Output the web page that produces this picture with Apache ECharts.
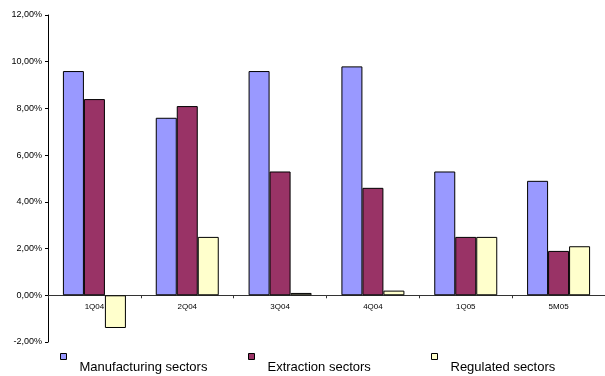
<!DOCTYPE html>
<html>
<head>
<meta charset="utf-8">
<script src="https://cdn.jsdelivr.net/npm/echarts@6/dist/echarts.min.js"></script>
<style>
  html, body { margin: 0; padding: 0; background: #fff; }
  #chart { width: 605px; height: 376px; }
</style>
</head>
<body>
<div id="chart"></div>
<script>
// quarters on the x axis
const categories = ['1Q04', '2Q04', '3Q04', '4Q04', '1Q05', '5M05'];

// growth rates, in %
const manufacturing = [9.6, 7.6, 9.6, 9.8, 5.3, 4.9];
const extraction = [8.4, 8.1, 5.3, 4.6, 2.5, 1.9];
const regulated = [-1.4, 2.5, 0.1, 0.2, 2.5, 2.1];

const seriesNames = ['Manufacturing sectors', 'Extraction sectors', 'Regulated sectors'];
const colors = ['#9999FF', '#993366', '#FFFFCC'];

const font = 'Liberation Sans, Arial, sans-serif';

function pct(v) {
  return v.toFixed(2).replace('.', ',') + '%';
}

const myChart = echarts.init(document.getElementById('chart'), null, { renderer: 'canvas' });

function bar(name, data, i) {
  return {
    name: name,
    type: 'bar',
    data: data,
    barWidth: 21,
    barGap: '0%',
    itemStyle: { color: colors[i], borderColor: '#000', borderWidth: 1 },
    emphasis: { disabled: true }
  };
}

// one legend per series so each item can sit where the original puts it;
// the text sits lower than the little square, done with rich padding
function legendAt(name, left) {
  return {
    data: [name],
    left: left,
    top: 348,
    icon: 'rect',
    itemWidth: 6,
    itemHeight: 6,
    itemStyle: { borderColor: '#000', borderWidth: 1 },
    formatter: n => '{t|' + n + '}',
    textStyle: {
      fontFamily: font, fontSize: 13, color: '#000',
      rich: { t: { fontFamily: font, fontSize: 13, color: '#000', padding: [22, 0, 0, 8] } }
    }
  };
}

const option = {
  animation: false,
  grid: { left: 48, top: 15, width: 560, height: 327 },
  legend: [
    legendAt(seriesNames[0], 55),
    legendAt(seriesNames[1], 243),
    legendAt(seriesNames[2], 426)
  ],
  xAxis: {
    type: 'category',
    data: categories,
    axisLine: { onZero: true, lineStyle: { color: '#333', width: 1 } },
    axisTick: { show: true, length: 3, lineStyle: { color: '#333' } },
    // labels stay at the grid bottom, pull them up under the zero line
    axisLabel: { fontFamily: font, fontSize: 8, color: '#000', margin: -39 },
    splitLine: { show: false }
  },
  yAxis: {
    type: 'value',
    min: -2,
    max: 12,
    interval: 2,
    axisLine: { show: true, lineStyle: { color: '#000', width: 1 } },
    axisTick: { show: true, length: 3, lineStyle: { color: '#000' } },
    axisLabel: { fontFamily: font, fontSize: 9, color: '#000', margin: 6, formatter: pct },
    splitLine: { show: false }
  },
  series: [
    bar(seriesNames[0], manufacturing, 0),
    bar(seriesNames[1], extraction, 1),
    bar(seriesNames[2], regulated, 2)
  ]
};

myChart.setOption(option);
</script>
</body>
</html>
